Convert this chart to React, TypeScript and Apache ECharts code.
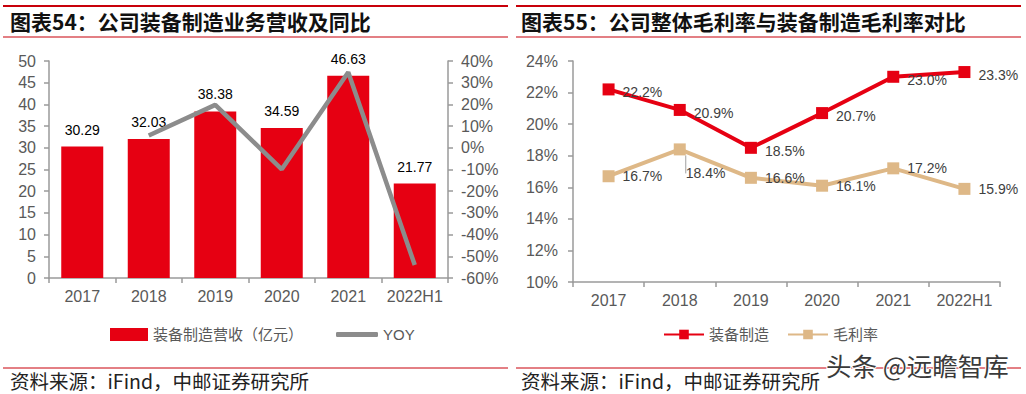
import React, { useEffect, useRef } from "react";
import * as echarts from "echarts";

const categories = ["2017", "2018", "2019", "2020", "2021", "2022H1"];
const revenue = [30.29, 32.03, 38.38, 34.59, 46.63, 21.77];
const yoy = [null, 5.7, 19.8, -9.9, 34.8, -54];
const equipMargin = [22.2, 20.9, 18.5, 20.7, 23.0, 23.3];
const grossMargin = [16.7, 18.4, 16.6, 16.1, 17.2, 15.9];

const revenueName = "装备制造营收（亿元）";
const yoyName = "YOY";
const equipName = "装备制造";
const grossName = "毛利率";

const title1 = "图表54：公司装备制造业务营收及同比";
const title2 = "图表55：公司整体毛利率与装备制造毛利率对比";
const sourceText = "资料来源：iFind，中邮证券研究所";
const watermark = "头条 @远瞻智库";

const RED = "#E60012";
const TAN = "#DEB887";
const GRAY = "#8C8C8C";
const AXIS = "#9A9A9A";
const LABEL = "#595959";
const FONT = "'Liberation Sans', Arial, 'Noto Sans CJK SC', sans-serif";
const CJK = "'Noto Sans CJK SC', sans-serif";

const pct = (p: any) => Number(p.value).toFixed(1) + "%";

export default function App() {
  const ref = useRef<HTMLDivElement>(null);
  useEffect(() => {
    document.body.style.margin = "0";
    if (!ref.current) return;
    const chart = echarts.init(ref.current, undefined, { renderer: "svg" });
    const axisLine = { show: true, lineStyle: { color: AXIS, width: 1.5 } };
    const axisTick = { show: true, length: 5, lineStyle: { color: AXIS, width: 1.5 } };
    const legendText = { color: LABEL, fontSize: 15, fontFamily: FONT };
    const option: any = {
      animation: false,
      textStyle: { fontFamily: FONT },
      grid: [
        { left: 49, right: 578, top: 61, bottom: 116 },
        { left: 573, right: 26, top: 61, bottom: 112 },
      ],
      xAxis: [
        {
          type: "category", gridIndex: 0, data: categories,
          axisLine, axisTick: { ...axisTick, interval: 0 },
          axisLabel: { color: LABEL, fontSize: 16, margin: 10, fontFamily: FONT, interval: 0 },
        },
        {
          type: "category", gridIndex: 1, data: categories,
          axisLine, axisTick: { ...axisTick, interval: 0 },
          axisLabel: { color: LABEL, fontSize: 16, margin: 10, fontFamily: FONT, interval: 0 },
        },
      ],
      yAxis: [
        {
          type: "value", gridIndex: 0, min: 0, max: 50, interval: 5,
          axisLine, axisTick, splitLine: { show: false },
          axisLabel: { color: LABEL, fontSize: 16, margin: 13, fontFamily: FONT },
        },
        {
          type: "value", gridIndex: 0, min: -60, max: 40, interval: 10, position: "right",
          axisLine, axisTick, splitLine: { show: false },
          axisLabel: { color: LABEL, fontSize: 16, margin: 13, fontFamily: FONT, formatter: "{value}%" },
        },
        {
          type: "value", gridIndex: 1, min: 10, max: 24, interval: 2,
          axisLine, axisTick, splitLine: { show: false },
          axisLabel: { color: LABEL, fontSize: 16, margin: 15, fontFamily: FONT, formatter: "{value}%" },
        },
      ],
      legend: [
        {
          left: 110, top: 327, padding: 0, itemWidth: 38, itemHeight: 13,
          data: [{ name: revenueName, icon: "rect" }],
          textStyle: legendText,
        },
        {
          left: 336, top: 327, padding: 0, itemWidth: 42, itemHeight: 5,
          data: [{ name: yoyName, icon: "roundRect" }],
          textStyle: legendText,
        },
        {
          left: 663, top: 327, padding: 0, itemWidth: 40, itemHeight: 12, itemGap: 18,
          data: [equipName, grossName],
          textStyle: legendText,
        },
      ],
      series: [
        {
          name: revenueName, type: "bar", xAxisIndex: 0, yAxisIndex: 0,
          data: revenue, barWidth: 42,
          itemStyle: { color: RED },
          label: { show: true, position: "top", distance: 10, color: "#000", fontSize: 14, fontFamily: FONT },
        },
        {
          name: yoyName, type: "line", xAxisIndex: 0, yAxisIndex: 1,
          data: yoy, showSymbol: false, symbol: "none",
          lineStyle: { color: GRAY, width: 4.5 }, itemStyle: { color: GRAY },
        },
        {
          name: equipName, type: "line", xAxisIndex: 1, yAxisIndex: 2,
          data: equipMargin, symbol: "rect", symbolSize: 12,
          lineStyle: { color: RED, width: 4 }, itemStyle: { color: RED },
          label: {
            show: true, position: "right", distance: 8, offset: [0, 3],
            color: "#404040", fontSize: 14, fontFamily: FONT, formatter: pct,
          },
        },
        {
          name: grossName, type: "line", xAxisIndex: 1, yAxisIndex: 2,
          data: grossMargin.map((v, i) =>
            i === 1
              ? { value: v, labelLine: { show: true, lineStyle: { color: "#A0A0A0", width: 1 } } }
              : v
          ),
          symbol: "rect", symbolSize: 12,
          lineStyle: { color: TAN, width: 4 }, itemStyle: { color: TAN },
          label: {
            show: true, position: "right", distance: 8, offset: [0, 3],
            color: "#404040", fontSize: 14, fontFamily: FONT, formatter: pct,
          },
          labelLayout: (p: any) => (p.dataIndex === 1 ? { dx: -8, dy: 24 } : {}),
        },
      ],
      graphic: [
        { type: "line", shape: { x1: 3, y1: 6, x2: 508, y2: 6 }, style: { stroke: "#C8000A", lineWidth: 2 } },
        { type: "line", shape: { x1: 3, y1: 37, x2: 508, y2: 37 }, style: { stroke: "#C8000A", lineWidth: 1.2 } },
        { type: "line", shape: { x1: 516, y1: 6, x2: 1021, y2: 6 }, style: { stroke: "#C8000A", lineWidth: 2 } },
        { type: "line", shape: { x1: 516, y1: 37, x2: 1021, y2: 37 }, style: { stroke: "#C8000A", lineWidth: 1.2 } },
        {
          type: "text", left: 10, top: 10,
          style: { text: title1, fill: "#111", font: `bold 21px ${CJK}` },
        },
        {
          type: "text", left: 521, top: 10,
          style: { text: title2, fill: "#111", font: `bold 21px ${CJK}` },
        },
        { type: "line", shape: { x1: 3, y1: 368, x2: 508, y2: 368 }, style: { stroke: "#C8000A", lineWidth: 1 } },
        { type: "line", shape: { x1: 516, y1: 368, x2: 1021, y2: 368 }, style: { stroke: "#C8000A", lineWidth: 1 } },
        {
          type: "text", left: 10, top: 371,
          style: { text: sourceText, fill: "#222", font: `19.5px ${CJK}` },
        },
        {
          type: "text", left: 521, top: 371,
          style: { text: sourceText, fill: "#222", font: `19.5px ${CJK}` },
        },
        {
          type: "text", left: 825, top: 351, z: 100,
          style: { text: watermark, fill: "#3A3A3A", stroke: "#FFFFFF", lineWidth: 2, font: `25.5px ${CJK}` },
        },
      ],
    };
    chart.setOption(option);
    return () => chart.dispose();
  }, []);
  return <div ref={ref} style={{ width: 1026, height: 394 }} />;
}
